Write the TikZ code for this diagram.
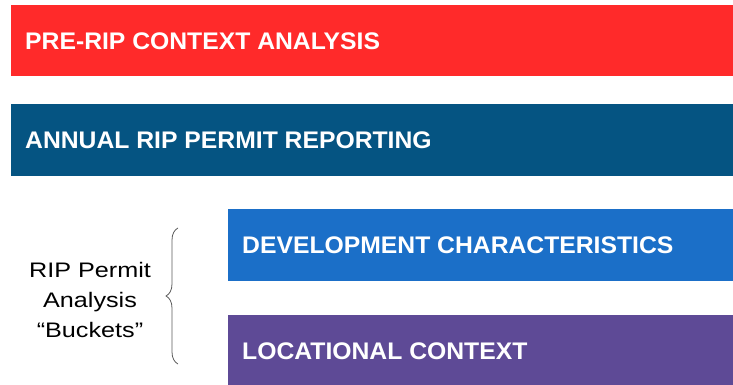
\documentclass[tikz,border=0pt]{standalone}
\usepackage{fontspec}
\setmainfont{Liberation Sans}
\newfontfamily\barfont[FakeStretch=1.03]{Liberation Sans}
\newfontfamily\sidefont[FakeStretch=1.2]{Liberation Sans}
\usetikzlibrary{decorations.pathreplacing}
\definecolor{cred}{RGB}{255,42,42}
\definecolor{cdblue}{RGB}{5,84,130}
\definecolor{cmblue}{RGB}{27,111,200}
\definecolor{cpurple}{RGB}{94,74,150}
\definecolor{cgray}{RGB}{90,90,90}
\begin{document}
\begin{tikzpicture}[x=1pt,y=-1pt,
  bartext/.style={anchor=west, text=white, font=\barfont\fontsize{24}{28}\selectfont\bfseries, inner sep=0pt},
  sidetext/.style={align=center, font=\sidefont\fontsize{21}{30}\selectfont, inner sep=0pt}]
\useasboundingbox (0,0) rectangle (733,385);
\fill[cred] (11,5) rectangle (733,76);
\fill[cdblue] (11,104) rectangle (733,176);
\fill[cmblue] (228,209) rectangle (733,281);
\fill[cpurple] (228,315) rectangle (733,385);
\node[bartext] (t1) at (25,41) {PRE-RIP CONTEXT ANALYSIS};
\node[bartext] (t2) at (25,140) {ANNUAL RIP PERMIT REPORTING};
\node[bartext] (t3) at (242,245) {DEVELOPMENT CHARACTERISTICS};
\node[bartext] (t4) at (242,351) {LOCATIONAL CONTEXT};
\node[sidetext] (side) at (90,300) {RIP Permit\\Analysis\\“Buckets”};
\coordinate (btop) at (178,228);
\coordinate (bbot) at (178,364);
\draw[cgray, line width=0.8pt, decorate, decoration={brace, amplitude=12pt}] (bbot) -- (btop);
\end{tikzpicture}
\end{document}
